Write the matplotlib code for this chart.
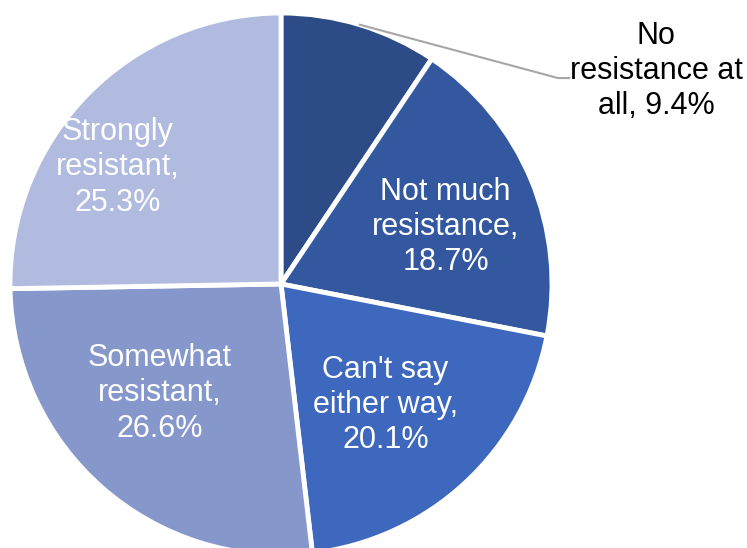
import matplotlib.pyplot as plt
import numpy as np

# Data
labels = ["No\nresistance at\nall", "Not much\nresistance", "Can't say\neither way",
          "Somewhat\nresistant", "Strongly\nresistant"]
values = [9.4, 18.7, 20.1, 26.6, 25.3]
colors = ["#2c4b87", "#3358a0", "#3e68bd", "#8597cb", "#b0bbdf"]

# label centres in units of the pie radius (first one sits outside the pie)
label_pos = [(1.385, 0.785), (0.607, 0.211), (0.385, -0.448),
             (-0.448, -0.404), (-0.604, 0.43)]

plt.rcParams['font.family'] = ['Liberation Sans', 'DejaVu Sans']

W, H = 747, 548
fig = plt.figure(figsize=(W / 100, H / 100), dpi=100)
cx, cy, R = 281, 284, 271
ax = fig.add_axes([(cx - R) / W, (H - cy - R) / H, 2 * R / W, 2 * R / H])

wedges, _ = ax.pie(values, colors=colors, startangle=90, counterclock=False,
                   wedgeprops=dict(edgecolor='white', linewidth=3.5))
ax.set_xlim(-1, 1)
ax.set_ylim(-1, 1)
ax.axis('off')

for i, (w, lab, v) in enumerate(zip(wedges, labels, values)):
    x, y = label_pos[i]
    if i == 0:
        # outside label with leader line
        mid = np.deg2rad((w.theta1 + w.theta2) / 2)
        ax.plot([np.cos(mid), 1.022, 1.063], [np.sin(mid), 0.76, 0.76],
                color='#a6a6a6', lw=1.5, clip_on=False)
        ax.text(x, y, f"{lab}, {v}%", ha='center', va='center',
                fontsize=22, color='black', linespacing=1.22, clip_on=False)
    else:
        ax.text(x, y, f"{lab},\n{v}%", ha='center', va='center',
                fontsize=22, color='white', linespacing=1.22)

fig.savefig("out.png", dpi=100)
